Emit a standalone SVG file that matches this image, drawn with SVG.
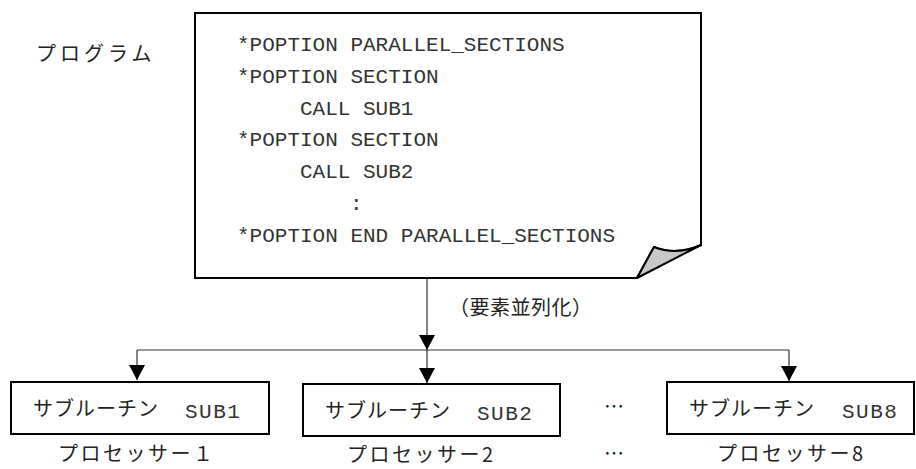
<svg xmlns="http://www.w3.org/2000/svg" width="916" height="469" viewBox="0 0 916 469">
<style>
.jp{font-family:"Noto Sans CJK JP","Noto Sans",sans-serif;font-size:20px;fill:#222;letter-spacing:2.5px}
.mono{font-family:"Liberation Mono","DejaVu Sans Mono",monospace;font-size:21px;fill:#333}
.box{fill:#fff;stroke:#000;stroke-width:2}
.conn{fill:none;stroke:#333;stroke-width:1.2}
</style>
<defs>
<marker id="ah" markerUnits="userSpaceOnUse" markerWidth="15" markerHeight="16" viewBox="0 0 15 16" refX="15" refY="8" orient="auto">
<path d="M0,0 L15,8 L0,16 z" fill="#000"/>
</marker>
</defs>
<rect width="916" height="469" fill="#fff"/>
<g id="program-label">
<text class="jp" x="36" y="61" style="letter-spacing:4px">プログラム</text>
</g>
<g id="program">
<path class="box" d="M195,13 H701 V245 Q676,256 654,247 L637,278 H195 Z"/>
<path d="M637,278 L654,247 Q676,256 701,245 Z" fill="#c8c8c8" stroke="#000" stroke-width="2" stroke-linejoin="round"/>
<text class="mono" x="237" y="51">*POPTION PARALLEL_SECTIONS</text>
<text class="mono" x="237" y="83">*POPTION SECTION</text>
<text class="mono" x="300" y="115">CALL SUB1</text>
<text class="mono" x="237" y="146">*POPTION SECTION</text>
<text class="mono" x="300" y="178">CALL SUB2</text>
<text class="mono" x="350" y="210">:</text>
<text class="mono" x="237" y="242">*POPTION END PARALLEL_SECTIONS</text>
</g>
<g id="connectors">
<line class="conn" x1="427" y1="279" x2="427" y2="350" marker-end="url(#ah)"/>
<line class="conn" x1="137" y1="350" x2="789" y2="350"/>
<line class="conn" x1="137" y1="350" x2="137" y2="380" marker-end="url(#ah)"/>
<line class="conn" x1="427" y1="350" x2="427" y2="383" marker-end="url(#ah)"/>
<line class="conn" x1="789" y1="350" x2="789" y2="381" marker-end="url(#ah)"/>
<text class="jp" x="449" y="315" style="letter-spacing:0.5px">（要素並列化）</text>
</g>
<g id="sub1">
<rect class="box" x="11" y="382" width="258" height="52"/>
<text class="jp" x="33" y="416" style="letter-spacing:1px">サブルーチン</text>
<text class="mono" x="185" y="418" style="letter-spacing:1.5px">SUB1</text>
<text class="jp" x="58" y="461">プロセッサー１</text>
</g>
<g id="sub2">
<rect class="box" x="303" y="384" width="257" height="52"/>
<text class="jp" x="325" y="418" style="letter-spacing:1px">サブルーチン</text>
<text class="mono" x="477" y="420" style="letter-spacing:1.5px">SUB2</text>
<text class="jp" x="347" y="462">プロセッサー2</text>
</g>
<g id="dots">
<text class="jp" x="614" y="414" text-anchor="middle" style="letter-spacing:0">…</text>
<text class="jp" x="614" y="461" text-anchor="middle" style="letter-spacing:0">…</text>
</g>
<g id="sub8">
<rect class="box" x="667" y="382" width="247" height="52"/>
<text class="jp" x="689" y="416" style="letter-spacing:1px">サブルーチン</text>
<text class="mono" x="842" y="418" style="letter-spacing:1.5px">SUB8</text>
<text class="jp" x="717" y="461">プロセッサー8</text>
</g>
</svg>
